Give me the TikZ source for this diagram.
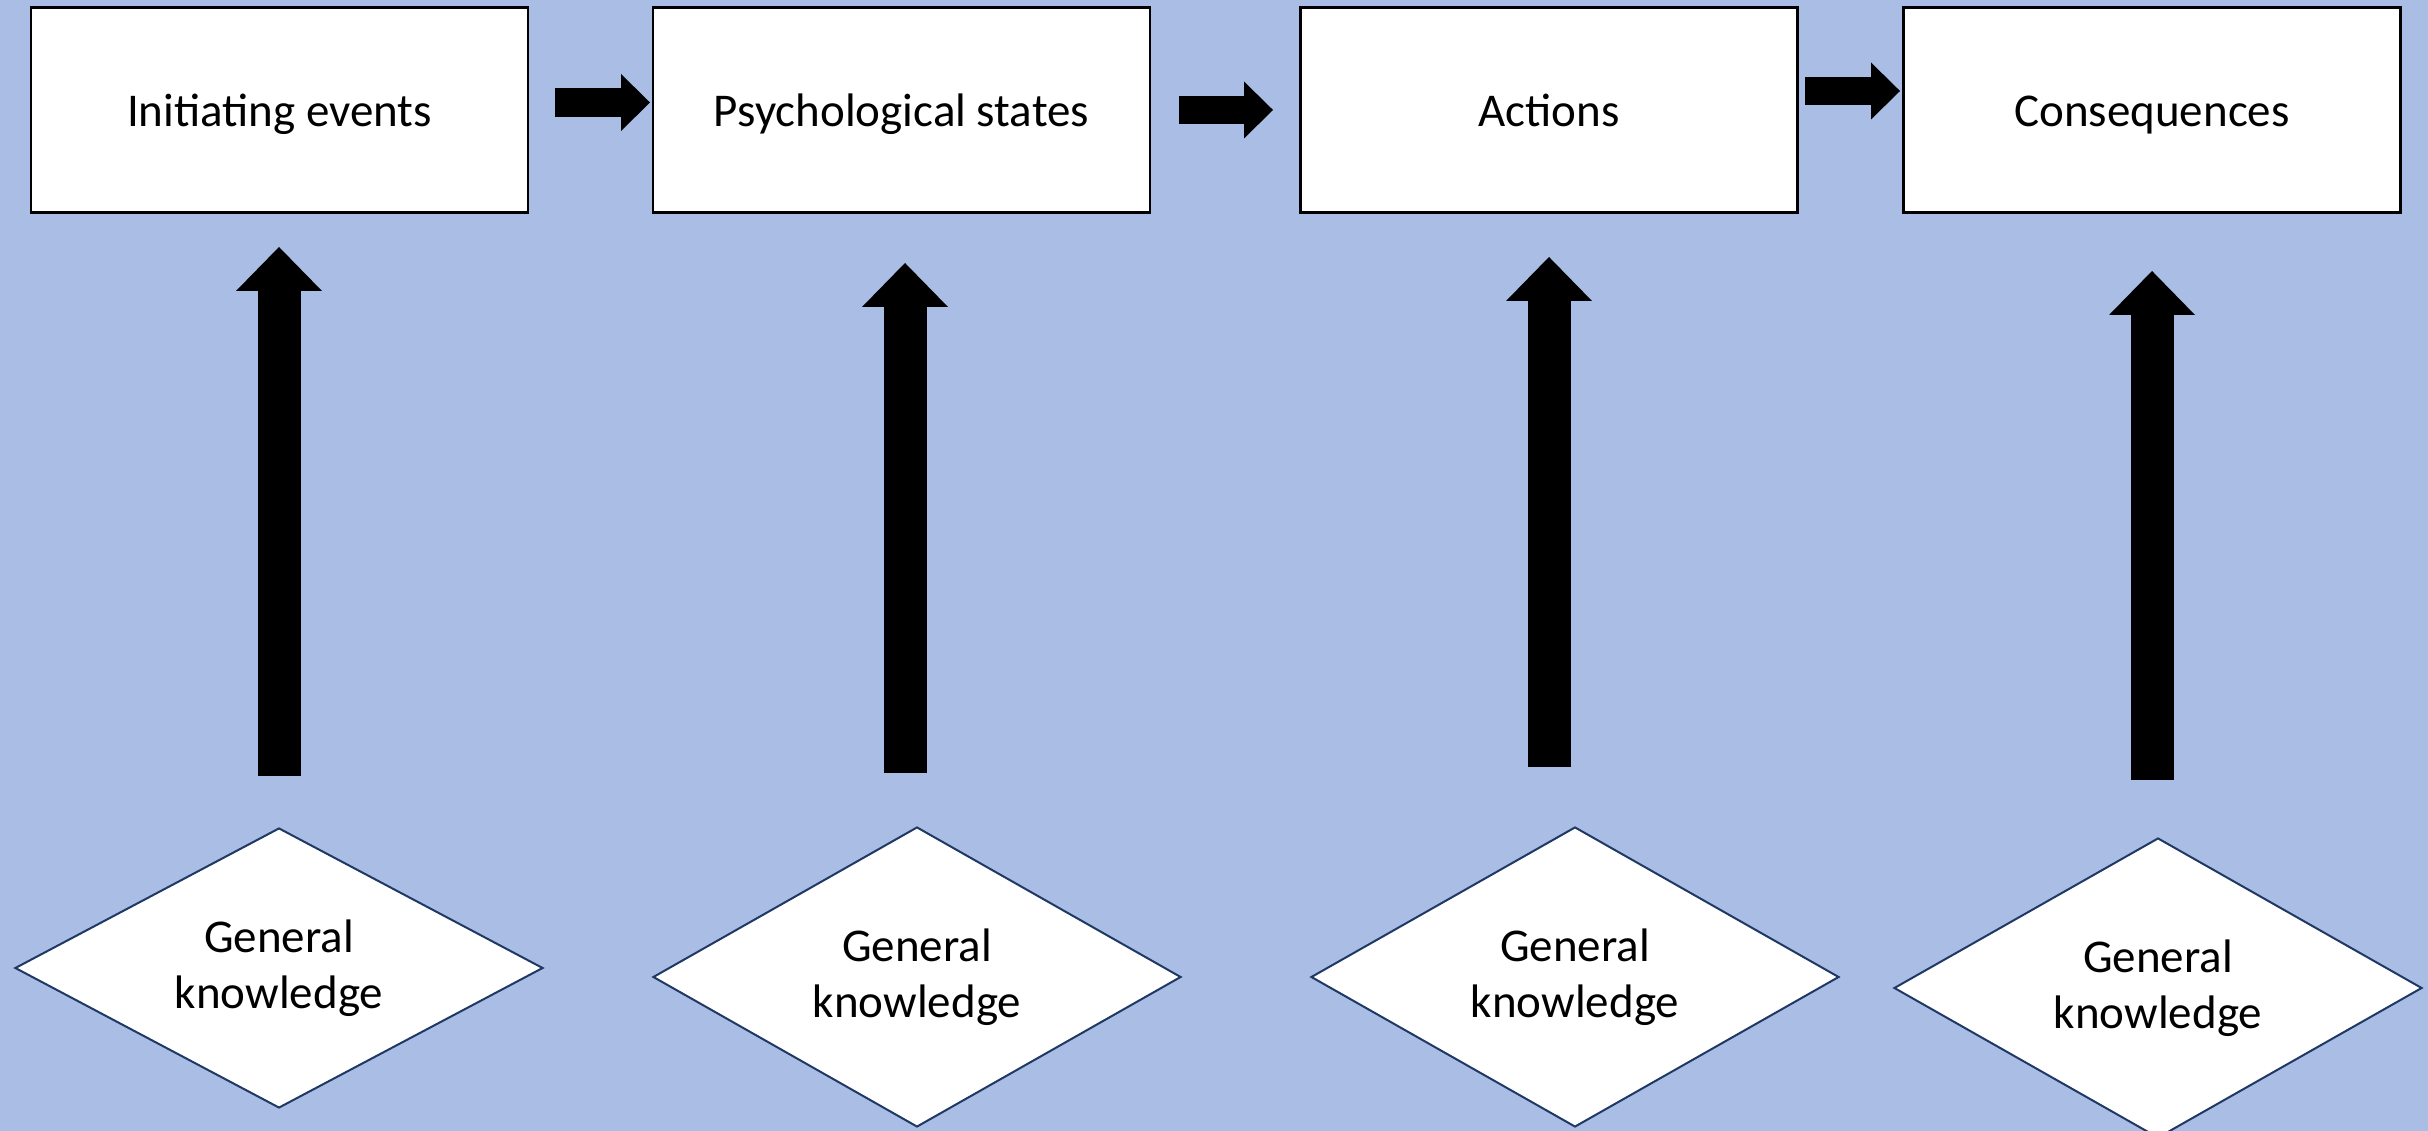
\documentclass[tikz,border=0pt]{standalone}
\usepackage{fontspec}
\setmainfont{Carlito}
\usetikzlibrary{shapes.geometric,arrows.meta}
\definecolor{slideblue}{RGB}{170,190,229}
\definecolor{darknavy}{RGB}{31,56,100}

\tikzset{
  stagebox/.style={draw=black, fill=white, line width=0.6pt, minimum width=124.25pt, minimum height=51.25pt, inner sep=0pt, text height=11pt, text depth=2.5pt, font=\fontsize{11.75pt}{14pt}\selectfont},
  knowbox/.style={diamond, draw=darknavy, fill=white, line width=0.5pt, aspect=1.9, inner sep=0pt, minimum width=132pt, minimum height=75pt, align=center, font=\fontsize{11.75pt}{14pt}\selectfont},
  smallarrow/.style={line width=7.2pt, -{Triangle[length=7.25pt,width=14.25pt,line width=0pt]}},
  bigarrow/.style={line width=10.75pt, -{Triangle[length=11pt,width=21.5pt,line width=0pt]}}
}

\begin{document}
\begin{tikzpicture}[x=0.25pt,y=0.25pt,yscale=-1]
        %Background [set diagram to 2428 x 1131]
        \fill [slideblue] (0,0) rectangle (2428,1131);
        \clip (0,0) rectangle (2428,1131);
        \useasboundingbox (0,0) rectangle (2428,1131);

        %Shape: Rectangle [stages]
        \node [stagebox] (initev) at (279.5,110) {Initiating events};
        \node [stagebox] (psych) at (901.5,110) {Psychological states};
        \node [stagebox] (actions) at (1549,110) {Actions};
        \node [stagebox] (conseq) at (2152,110) {Consequences};

        %Shape: Diamond [knowledge]
        \node [knowbox, minimum height=70pt] (know1) at (279,968) {General\\knowledge};
        \node [knowbox] (know2) at (917,977) {General\\knowledge};
        \node [knowbox] (know3) at (1575,977) {General\\knowledge};
        \node [knowbox] (know4) at (2158,988) {General\\knowledge};

        %Right Arrow [between stages]
        \coordinate (s1a) at (555,102.5);  \coordinate (s1b) at (650,102.5);
        \coordinate (s2a) at (1179,110);   \coordinate (s2b) at (1273,110);
        \coordinate (s3a) at (1805,91);    \coordinate (s3b) at (1900,91);
        \draw [smallarrow] (s1a) -- (s1b);
        \draw [smallarrow] (s2a) -- (s2b);
        \draw [smallarrow] (s3a) -- (s3b);

        %Up Arrow [knowledge to stages]
        \coordinate (u1a) at (279,776);  \coordinate (u1b) at (279,247);
        \coordinate (u2a) at (905,773);  \coordinate (u2b) at (905,263);
        \coordinate (u3a) at (1549,767); \coordinate (u3b) at (1549,257);
        \coordinate (u4a) at (2152,780); \coordinate (u4b) at (2152,271);
        \draw [bigarrow] (u1a) -- (u1b);
        \draw [bigarrow] (u2a) -- (u2b);
        \draw [bigarrow] (u3a) -- (u3b);
        \draw [bigarrow] (u4a) -- (u4b);

\end{tikzpicture}
\end{document}
